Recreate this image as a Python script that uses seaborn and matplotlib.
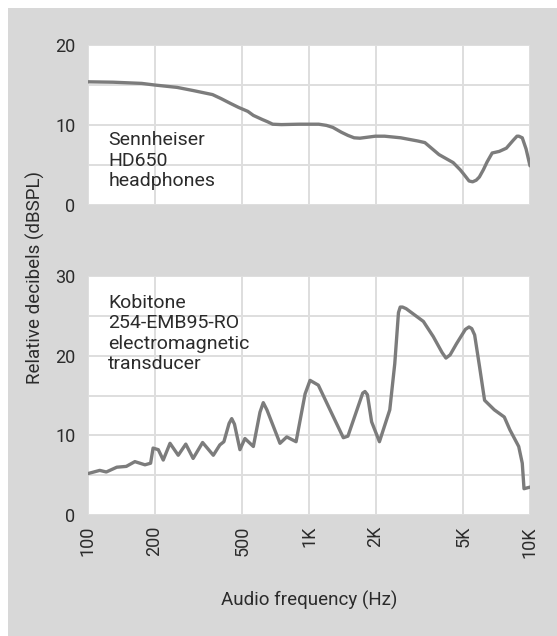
import pandas as pd
import seaborn as sns
import matplotlib.pyplot as plt
from matplotlib import font_manager
from matplotlib.patches import Rectangle

# Sennheiser HD650 headphones
hd650_freq = [100, 130, 175, 200, 253, 300, 366, 400, 441, 480, 529, 560, 613, 650,
              685, 750, 900, 1107, 1200, 1282, 1400, 1500, 1600, 1700, 1995, 2200,
              2600, 3107, 3345, 3875, 4491, 4833, 5000, 5302, 5500, 5710, 5900,
              6150, 6400, 6743, 7260, 7816, 8400, 8730, 8900, 9226, 9600, 10000]
hd650_db = [15.4, 15.35, 15.2, 15.0, 14.7, 14.3, 13.8, 13.3, 12.7, 12.2, 11.7, 11.2,
            10.7, 10.4, 10.1, 10.05, 10.1, 10.1, 9.95, 9.7, 9.1, 8.7, 8.4, 8.35,
            8.6, 8.6, 8.4, 8.0, 7.8, 6.3, 5.3, 4.4, 3.9, 3.0, 2.9, 3.1, 3.5, 4.4,
            5.4, 6.5, 6.7, 7.1, 8.1, 8.6, 8.6, 8.4, 7.0, 4.9]

# Kobitone 254-EMB95-RO transducer
kobi_freq = [100, 113, 121, 135, 149, 163, 181, 192, 197, 208, 219, 235, 256, 277,
             299, 330, 369, 395, 412, 435, 447, 460, 487, 513, 560, 600, 621, 645,
             739, 793, 874, 960, 1011, 1102, 1245, 1430, 1500, 1750, 1792, 1838,
             1920, 2083, 2320, 2444, 2540, 2587, 2650, 2751, 3292, 3649, 4000,
             4165, 4350, 4650, 5100, 5296, 5450, 5617, 5913, 6230, 6896, 7649,
             8107, 8890, 9226, 9395, 10000]
kobi_db = [5.2, 5.6, 5.4, 6.0, 6.1, 6.7, 6.3, 6.5, 8.4, 8.2, 6.9, 9.0, 7.5, 8.9,
           7.1, 9.1, 7.5, 8.8, 9.2, 11.5, 12.1, 11.4, 8.2, 9.6, 8.6, 12.9, 14.1,
           13.2, 9.0, 9.8, 9.2, 15.2, 16.9, 16.3, 13.2, 9.7, 9.9, 15.3, 15.5,
           15.1, 11.7, 9.2, 13.2, 19.0, 25.4, 26.1, 26.1, 25.9, 24.3, 22.4,
           20.4, 19.7, 20.1, 21.5, 23.3, 23.6, 23.4, 22.6, 18.6, 14.4, 13.2,
           12.3, 10.7, 8.6, 6.5, 3.3, 3.5]

tick_freqs = [100, 200, 500, 1000, 2000, 5000, 10000]
tick_labels = ["100", "200", "500", "1K", "2K", "5K", "10K"]

sns.set_style("whitegrid")
installed = {f.name for f in font_manager.fontManager.ttflist}
font = next(f for f in ["Roboto", "Liberation Sans", "DejaVu Sans"] if f in installed)
plt.rcParams["font.family"] = [font, "DejaVu Sans"]

txt = "#2b2b2b"
line_col = "#7c7c7c"
grid_col = "#dedede"

fig = plt.figure(figsize=(5.57, 6.36), dpi=100, facecolor="white")
fig.patches.append(Rectangle((8 / 557, 0), 1, 1 - 8 / 636, transform=fig.transFigure,
                             facecolor="#d8d8d8", edgecolor="none", zorder=-10))

ax1 = fig.add_axes([88 / 557, 431 / 636, 442 / 557, 160 / 636])
ax2 = fig.add_axes([88 / 557, 121 / 636, 442 / 557, 239 / 636])

df1 = pd.DataFrame({"freq": hd650_freq, "db": hd650_db})
df2 = pd.DataFrame({"freq": kobi_freq, "db": kobi_db})

sns.lineplot(data=df1, x="freq", y="db", ax=ax1, color=line_col, linewidth=2.4)
sns.lineplot(data=df2, x="freq", y="db", ax=ax2, color=line_col, linewidth=2.4)

for ax, top in [(ax1, 20), (ax2, 30)]:
    ax.set_xscale("log")
    ax.set_xlim(100, 10000)
    ax.set_ylim(0, top)
    ax.set_facecolor("white")
    ax.set_yticks(range(0, top + 1, 5))
    ax.set_yticklabels([str(v) if v % 10 == 0 else "" for v in range(0, top + 1, 5)])
    ax.set_xticks(tick_freqs)
    ax.minorticks_off()
    ax.grid(True, color=grid_col, linewidth=1.4)
    for s in ax.spines.values():
        s.set_visible(False)
    ax.tick_params(axis="both", length=0, labelsize=13, colors=txt, pad=9)
    ax.set_xlabel("")
    ax.set_ylabel("")

ax1.set_xticklabels([])
ax2.set_xticklabels(tick_labels, rotation=90)
ax2.tick_params(axis="x", pad=8)

ax1.text(0.046, 0.46, "Sennheiser\nHD650\nheadphones", transform=ax1.transAxes,
         fontsize=14, color=txt, va="top", ha="left", linespacing=1.18)
ax2.text(0.046, 0.925, "Kobitone\n254-EMB95-RO\nelectromagnetic\ntransducer",
         transform=ax2.transAxes, fontsize=14, color=txt, va="top", ha="left",
         linespacing=1.18)

fig.text(35 / 557, 1 - 278 / 636, "Relative decibels (dBSPL)", rotation=90,
         ha="center", va="center", fontsize=13.5, color=txt)
fig.text(309 / 557, 1 - 600 / 636, "Audio frequency (Hz)", ha="center", va="center",
         fontsize=13.5, color=txt)

fig.savefig("out.png", dpi=100, facecolor=fig.get_facecolor())
